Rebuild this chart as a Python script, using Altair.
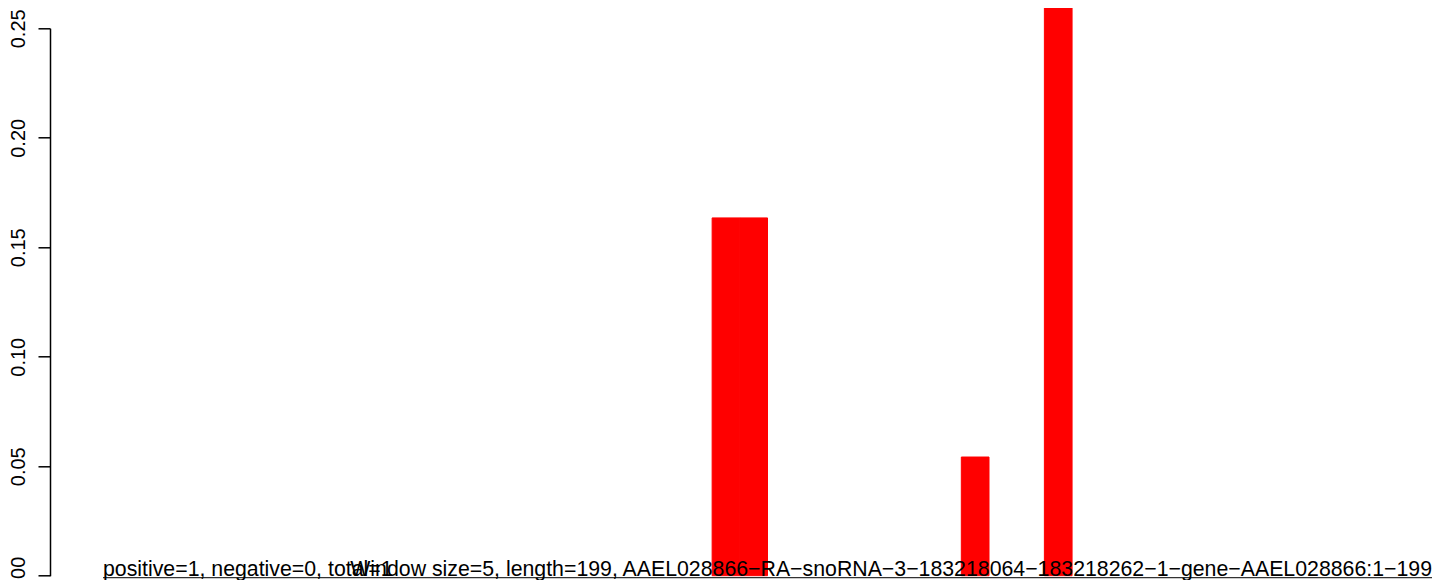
import altair as alt
import pandas as pd

# 48 windows along the sequence (bin start index) and the bar heights
bin_start = list(range(48))
heights = [0, 0, 0, 0, 0, 0, 0, 0, 0, 0,
           0, 0, 0, 0, 0, 0, 0, 0, 0, 0,
           0, 0, 0.1634, 0.1634, 0, 0, 0, 0, 0, 0,
           0, 0.0542, 0, 0, 0.27, 0, 0, 0, 0, 0,
           0, 0, 0, 0, 0, 0, 0, 0]

y_ticks = [0.0, 0.05, 0.10, 0.15, 0.20, 0.25]
left_text = "positive=1, negative=0, total=1"
right_text = ("Window size=5, length=199, AAEL028866\u2212RA\u2212snoRNA\u22123\u2212"
              "183218064\u2212183218262\u22121\u2212gene\u2212AAEL028866:1\u2212199")

df = pd.DataFrame({"start": bin_start,
                   "end": [b + 1 for b in bin_start],
                   "h": heights})

FONT = "Liberation Sans"
xscale = alt.Scale(domain=[0, 48], nice=False, zero=False)
yscale = alt.Scale(domain=[0, 0.25], nice=False)
yaxis = alt.Axis(values=y_ticks, format=".2f", tickSize=12, tickColor="black",
                 tickWidth=1.5, domainColor="black", domainWidth=1.5, offset=53,
                 grid=False, labelAngle=270, labelAlign="center",
                 labelBaseline="alphabetic", labelPadding=14, labelFontSize=20,
                 labelFont=FONT, labelColor="black", labelFlush=False,
                 labelOverlap=False, title=None)

baseline = alt.Chart(pd.DataFrame({"x0": [0], "x1": [48]})).mark_rule(
    color="#333333", strokeWidth=1.2, yOffset=2
).encode(
    x=alt.X("x0:Q", scale=xscale, axis=None),
    x2="x1:Q",
    y=alt.YDatum(0, scale=yscale, axis=yaxis),
)

bars = alt.Chart(df).transform_filter("datum.h > 0").mark_rect(
    color="#FF0000", stroke="#FF0000", strokeWidth=1, clip=False
).encode(
    x=alt.X("start:Q", scale=xscale, axis=None),
    x2="end:Q",
    y=alt.Y("h:Q", scale=yscale, axis=yaxis),
    y2=alt.Y2Datum(0),
)

txt_left = alt.Chart(pd.DataFrame({"t": [left_text], "x": [0]})).mark_text(
    align="left", baseline="alphabetic", fontSize=21.3, font=FONT, color="black"
).encode(
    x=alt.X("x:Q", scale=xscale, axis=None),
    y=alt.YDatum(0, scale=yscale, axis=yaxis),
    text="t:N",
)

txt_right = alt.Chart(pd.DataFrame({"t": [right_text], "x": [48]})).mark_text(
    align="right", baseline="alphabetic", fontSize=21.3, font=FONT, color="black"
).encode(
    x=alt.X("x:Q", scale=xscale, axis=None),
    y=alt.YDatum(0, scale=yscale, axis=yaxis),
    text="t:N",
)

chart = alt.layer(baseline, bars, txt_left, txt_right).properties(
    width=1329,
    height=547.4,
    autosize=alt.AutoSizeParams(type="none"),
    padding={"left": 95, "top": 20.3, "right": 4, "bottom": 4.3},
    background="white",
).configure_view(stroke="transparent")

chart.save("out.html", embed_options={"renderer": "svg", "actions": False})
